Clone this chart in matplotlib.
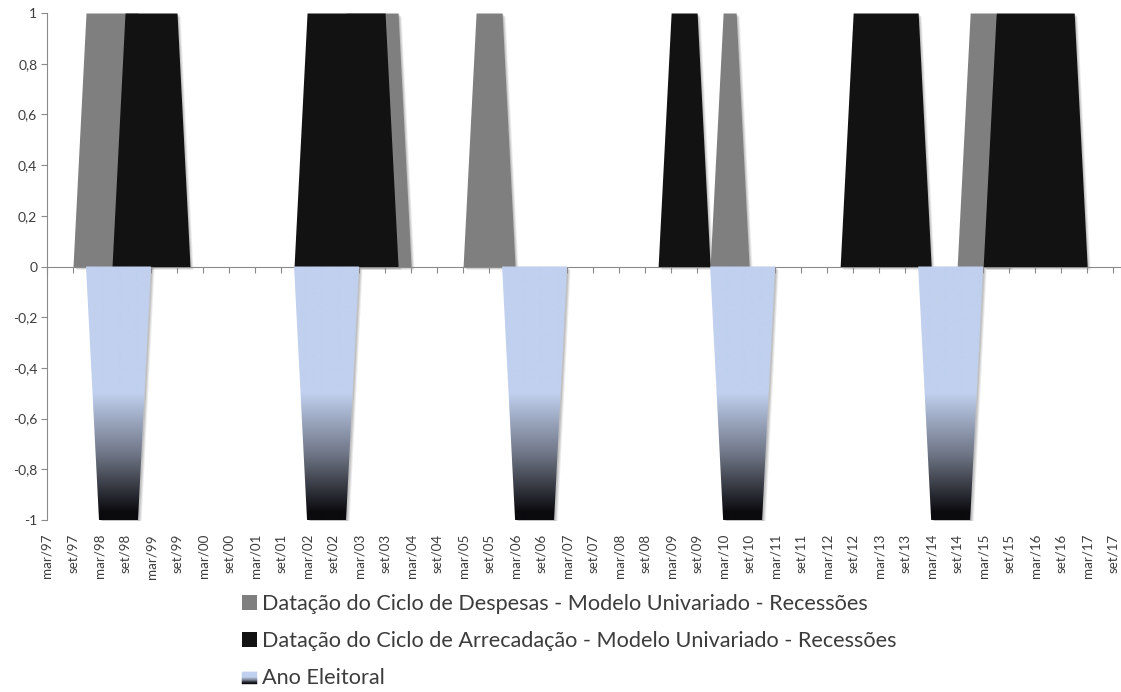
import numpy as np
import matplotlib
matplotlib.use("Agg")
import matplotlib.pyplot as plt
from matplotlib.patches import Rectangle, Patch
from matplotlib.path import Path
from matplotlib.colors import LinearSegmentedColormap
from matplotlib.legend_handler import HandlerBase
from matplotlib.transforms import offset_copy

plt.rcParams['font.family'] = ['Lato', 'DejaVu Sans']

# Quarterly calendar, 1997-2017
years = list(range(1997, 2018))
months = ['mar', 'jun', 'set', 'dez']
quarters = [f"{m}/{str(y)[2:]}" for y in years for m in months]

# Recession dating (1 = recession) and election years (-1), one row per year
despesas = [
    0, 0, 0, 1,   # 1997
    1, 1, 1, 1,   # 1998
    0, 0, 0, 0,   # 1999
    0, 0, 0, 0,   # 2000
    0, 0, 0, 0,   # 2001
    0, 0, 0, 1,   # 2002
    1, 1, 1, 1,   # 2003
    0, 0, 0, 0,   # 2004
    0, 1, 1, 1,   # 2005
    0, 0, 0, 0,   # 2006
    0, 0, 0, 0,   # 2007
    0, 0, 0, 0,   # 2008
    0, 0, 0, 0,   # 2009
    1, 1, 0, 0,   # 2010
    0, 0, 0, 0,   # 2011
    0, 0, 0, 0,   # 2012
    0, 0, 0, 0,   # 2013
    0, 0, 0, 1,   # 2014
    1, 1, 0, 0,   # 2015
    0, 0, 0, 0,   # 2016
    0, 0, 0, 0,   # 2017
]
arrecadacao = [
    0, 0, 0, 0,   # 1997
    0, 0, 1, 1,   # 1998
    1, 1, 1, 0,   # 1999
    0, 0, 0, 0,   # 2000
    0, 0, 0, 0,   # 2001
    1, 1, 1, 1,   # 2002
    1, 1, 1, 0,   # 2003
    0, 0, 0, 0,   # 2004
    0, 0, 0, 0,   # 2005
    0, 0, 0, 0,   # 2006
    0, 0, 0, 0,   # 2007
    0, 0, 0, 0,   # 2008
    1, 1, 1, 0,   # 2009
    0, 0, 0, 0,   # 2010
    0, 0, 0, 0,   # 2011
    0, 0, 1, 1,   # 2012
    1, 1, 1, 1,   # 2013
    0, 0, 0, 0,   # 2014
    0, 1, 1, 1,   # 2015
    1, 1, 1, 1,   # 2016
    0, 0, 0, 0,   # 2017
]
ano_eleitoral = [
    0, 0, 0, 0,       # 1997
    -1, -1, -1, -1,   # 1998
    0, 0, 0, 0,       # 1999
    0, 0, 0, 0,       # 2000
    0, 0, 0, 0,       # 2001
    -1, -1, -1, -1,   # 2002
    0, 0, 0, 0,       # 2003
    0, 0, 0, 0,       # 2004
    0, 0, 0, 0,       # 2005
    -1, -1, -1, -1,   # 2006
    0, 0, 0, 0,       # 2007
    0, 0, 0, 0,       # 2008
    0, 0, 0, 0,       # 2009
    -1, -1, -1, -1,   # 2010
    0, 0, 0, 0,       # 2011
    0, 0, 0, 0,       # 2012
    0, 0, 0, 0,       # 2013
    -1, -1, -1, -1,   # 2014
    0, 0, 0, 0,       # 2015
    0, 0, 0, 0,       # 2016
    0, 0, 0, 0,       # 2017
]

labels = [
    'Datação do Ciclo de Despesas - Modelo Univariado - Recessões',
    'Datação do Ciclo de Arrecadação - Modelo Univariado - Recessões',
    'Ano Eleitoral',
]

GREY = '#7f7f7f'
BLACK = '#121212'
BLUE = '#c0d0ee'
TEXT = '#3c3c3c'
AXIS = '#8a8a8a'

elec_cmap = LinearSegmentedColormap.from_list(
    'eleitoral', [(0.0, BLUE), (0.5, BLUE), (0.75, '#6c7282'), (0.97, '#0b0b0e'), (1.0, '#0b0b0e')])

x = np.arange(len(quarters))
d = np.array(despesas, float)
a = np.array(arrecadacao, float)
e = np.array(ano_eleitoral, float)

fig = plt.figure(figsize=(11.21, 6.92), dpi=100)
ax = fig.add_axes([47 / 1121, 172 / 692, 1074 / 1121, 507 / 692])

# soft drop shadow behind each area
for dx, alpha in ((3, 0.07), (2, 0.09), (1, 0.10)):
    sh = offset_copy(ax.transData, fig=fig, x=dx, y=-dx, units='dots')
    for vals in (d, a, e):
        ax.fill_between(x, 0, vals, transform=sh, color='black', alpha=alpha, lw=0, zorder=1)

ax.fill_between(x, 0, d, color=GREY, lw=0, zorder=2)
ax.fill_between(x, 0, a, color=BLACK, lw=0, zorder=3)

# election years: gradient fill clipped to the area outline
grad = np.linspace(0, 1, 512).reshape(-1, 1)
im = ax.imshow(grad, cmap=elec_cmap, extent=[x[0], x[-1], -1, 0], origin='upper',
               aspect='auto', interpolation='bilinear', zorder=4)
verts = list(zip(x, e)) + [(x[-1], 0), (x[0], 0), (x[0], e[0])]
clip = Path(verts, closed=True)
im.set_clip_path(clip, transform=ax.transData)

ax.set_xlim(0, 82.6)
ax.set_ylim(-1, 1)

# value axis on the left, category axis line crossing at zero (behind the areas)
for s in ('top', 'right'):
    ax.spines[s].set_visible(False)
ax.spines['left'].set_color(AXIS)
ax.spines['bottom'].set_color(AXIS)
ax.spines['bottom'].set_position(('data', 0))
ax.spines['bottom'].set_zorder(1.5)
ax.spines['left'].set_zorder(6)
yt = np.round(np.linspace(-1, 1, 11), 1)
ax.set_yticks(yt)
ax.set_yticklabels([f"{v:g}".replace('.', ',') if v != 0 else '0' for v in yt])
ax.tick_params(axis='y', direction='out', length=4, color=AXIS, labelcolor=TEXT,
               labelsize=10, pad=3)
ax.set_xticks(x[::2])
ax.tick_params(axis='x', direction='out', length=4, color=AXIS, labelbottom=False)

# category labels along the bottom edge of the plot
lab = ax.secondary_xaxis('bottom')
lab.set_xticks(x[::2])
lab.set_xticklabels(quarters[::2], rotation=90)
lab.tick_params(axis='x', length=0, labelcolor=TEXT, labelsize=9.6, pad=10)
for s in lab.spines.values():
    s.set_visible(False)


class GradientSwatch(Patch):
    pass


class GradientHandler(HandlerBase):
    def create_artists(self, legend, orig_handle, xdescent, ydescent, width, height,
                       fontsize, trans):
        n = 16
        h = height * 0.8
        arts = []
        for k in range(n):
            c = elec_cmap((k + 0.5) / n)
            r = Rectangle((-xdescent, -ydescent + h * (1 - (k + 1) / n)), width, h / n,
                          facecolor=c, edgecolor=c, lw=0.3, transform=trans)
            arts.append(r)
        return arts


handles = [Patch(facecolor=GREY, edgecolor='none'),
           Patch(facecolor=BLACK, edgecolor='none'),
           GradientSwatch()]
fig.legend(handles, labels, loc='upper left', bbox_to_anchor=(242 / 1121, 1 - 594 / 692),
           frameon=False, fontsize=15.6, handlelength=0.69, handleheight=0.69,
           handletextpad=0.22, labelspacing=0.78, borderpad=0, borderaxespad=0,
           labelcolor=TEXT, handler_map={GradientSwatch: GradientHandler()})

fig.savefig('out.png', dpi=100)
